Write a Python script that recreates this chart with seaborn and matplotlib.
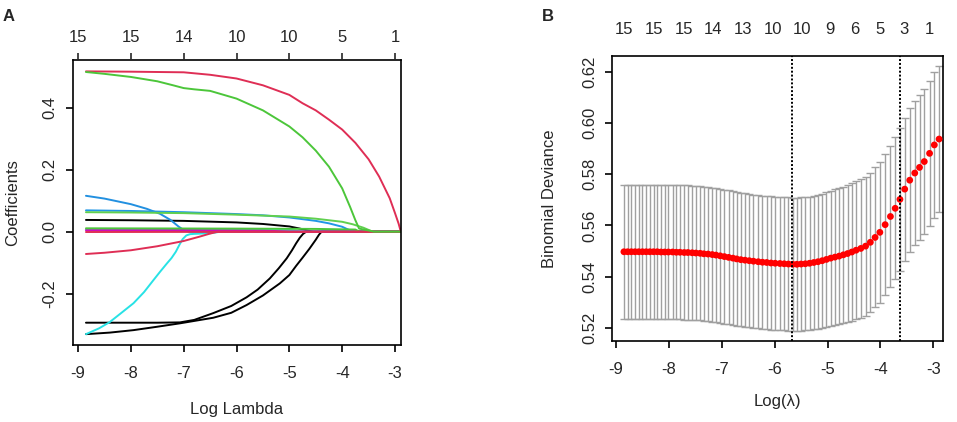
import numpy as np
import pandas as pd
import matplotlib
matplotlib.use('Agg')
import matplotlib.pyplot as plt
import seaborn as sns

sns.set_style('ticks')
plt.rcParams['font.family'] = ['Liberation Sans', 'DejaVu Sans']
plt.rcParams['font.size'] = 12

# ---- panel A: coefficient paths (log lambda, coefficient) ----
black_a_x = [-8.85, -8.0, -7.5, -7.07, -6.8, -6.44, -6.1, -5.81, -5.6, -5.37, -5.2, -5.05, -4.95, -4.87, -4.8, -4.74, -4.68, -2.89]
black_a_y = [-0.294, -0.294, -0.294, -0.293, -0.285, -0.263, -0.240, -0.212, -0.187, -0.151, -0.118, -0.086, -0.060, -0.037, -0.019, -0.007, 0.0, 0.0]
black_b_x = [-8.85, -8.4, -7.95, -7.5, -7.07, -6.44, -6.1, -5.81, -5.5, -5.18, -5.0, -4.87, -4.75, -4.62, -4.5, -4.44, -4.39, -2.89]
black_b_y = [-0.331, -0.326, -0.318, -0.307, -0.296, -0.278, -0.262, -0.237, -0.206, -0.167, -0.140, -0.110, -0.084, -0.055, -0.026, -0.010, 0.0, 0.0]
black_c_x = [-8.85, -8.0, -7.0, -6.0, -5.5, -5.0, -4.8, -4.68, -4.55, -2.89]
black_c_y = [0.038, 0.037, 0.035, 0.030, 0.025, 0.017, 0.010, 0.005, 0.0, 0.0]
red_top_x = [-8.85, -8.0, -7.0, -6.5, -6.0, -5.5, -5.0, -4.75, -4.5, -4.25, -4.0, -3.75, -3.5, -3.3, -3.1, -3.0, -2.93, -2.89]
red_top_y = [0.518, 0.517, 0.515, 0.507, 0.495, 0.473, 0.442, 0.415, 0.392, 0.362, 0.330, 0.287, 0.234, 0.178, 0.108, 0.060, 0.025, 0.0]
green_top_x = [-8.85, -8.5, -8.0, -7.5, -7.2, -7.0, -6.8, -6.5, -6.0, -5.5, -5.0, -4.75, -4.5, -4.25, -4.0, -3.85, -3.75, -3.68, -3.5, -3.4, -2.89]
green_top_y = [0.516, 0.510, 0.500, 0.486, 0.473, 0.464, 0.460, 0.455, 0.430, 0.392, 0.340, 0.305, 0.262, 0.210, 0.140, 0.080, 0.037, 0.010, 0.004, 0.0, 0.0]
blue_a_x = [-8.85, -8.5, -8.0, -7.7, -7.45, -7.25, -7.1, -6.98, -6.9, -2.89]
blue_a_y = [0.116, 0.107, 0.089, 0.074, 0.058, 0.038, 0.017, 0.003, 0.0, 0.0]
blue_b_x = [-8.85, -8.0, -7.0, -6.0, -5.5, -5.0, -4.5, -4.25, -4.0, -3.8, -2.89]
blue_b_y = [0.069, 0.067, 0.063, 0.057, 0.053, 0.046, 0.035, 0.027, 0.016, 0.0, 0.0]
green_b_x = [-8.85, -8.0, -7.0, -6.0, -5.0, -4.5, -4.0, -3.8, -3.6, -3.42, -2.89]
green_b_y = [0.063, 0.062, 0.060, 0.055, 0.049, 0.042, 0.032, 0.024, 0.013, 0.0, 0.0]
green_c_x = [-8.85, -6.0, -4.5, -3.75, -3.67, -2.89]
green_c_y = [0.011, 0.010, 0.009, 0.007, 0.0, 0.0]
magenta_x = [-8.85, -7.0, -5.5, -5.0, -2.89]
magenta_y = [0.005, 0.005, 0.004, 0.0, 0.0]
cyan_b_x = [-8.85, -5.0, -4.7, -2.89]
cyan_b_y = [0.006, 0.005, 0.0, 0.0]
red_zero_x = [-8.85, -2.89]
red_zero_y = [-0.001, 0.0]
red_bot_x = [-8.85, -8.5, -8.0, -7.5, -7.0, -6.7, -6.5, -6.35, -2.89]
red_bot_y = [-0.072, -0.068, -0.060, -0.047, -0.030, -0.016, -0.006, 0.0, 0.0]
cyan_a_x = [-8.85, -8.6, -8.4, -8.2, -7.95, -7.75, -7.58, -7.45, -7.32, -7.23, -7.15, -7.08, -7.02, -6.95, -6.88, -6.8, -6.5, -6.3, -2.89]
cyan_a_y = [-0.331, -0.312, -0.292, -0.265, -0.231, -0.195, -0.158, -0.130, -0.103, -0.085, -0.065, -0.042, -0.024, -0.012, -0.008, -0.007, -0.005, 0.0, 0.0]

paths = [
    ('black_a', '#000000', black_a_x, black_a_y),
    ('black_b', '#000000', black_b_x, black_b_y),
    ('black_c', '#000000', black_c_x, black_c_y),
    ('cyan_a', '#28E2E5', cyan_a_x, cyan_a_y),
    ('cyan_b', '#28E2E5', cyan_b_x, cyan_b_y),
    ('blue_a', '#2290E0', blue_a_x, blue_a_y),
    ('blue_b', '#2297E6', blue_b_x, blue_b_y),
    ('magenta', '#CD0BBC', magenta_x, magenta_y),
    ('green_c', '#4CC63A', green_c_x, green_c_y),
    ('green_b', '#61D04F', green_b_x, green_b_y),
    ('red_zero', '#DF2E55', red_zero_x, red_zero_y),
    ('red_bot', '#DF2E55', red_bot_x, red_bot_y),
    ('red_top', '#DF2E55', red_top_x, red_top_y),
    ('green_top', '#4CC63A', green_top_x, green_top_y),
]
coef_df = pd.concat([pd.DataFrame({'path': n, 'log_lambda': xs, 'coef': ys})
                     for n, c, xs, ys in paths], ignore_index=True)
path_colors = {n: c for n, c, xs, ys in paths}
path_order = [n for n, c, xs, ys in paths]

a_ticks = [-9, -8, -7, -6, -5, -4, -3]
a_top_labels = ['15', '15', '14', '10', '10', '5', '1']

# ---- panel B: cross-validation curve ----
cv_loglam = [-8.85, -8.78, -8.71, -8.64, -8.57, -8.50, -8.43, -8.36, -8.29, -8.22,
             -8.15, -8.08, -8.01, -7.93, -7.86, -7.79, -7.71, -7.64, -7.56, -7.49,
             -7.41, -7.34, -7.26, -7.18, -7.11, -7.03, -6.95, -6.87, -6.79, -6.72,
             -6.64, -6.56, -6.48, -6.40, -6.31, -6.23, -6.15, -6.07, -5.99, -5.90,
             -5.82, -5.74, -5.66, -5.58, -5.50, -5.42, -5.34, -5.26, -5.18, -5.10,
             -5.02, -4.94, -4.86, -4.78, -4.70, -4.62, -4.54, -4.46, -4.37, -4.28,
             -4.19, -4.10, -4.01, -3.91, -3.81, -3.72, -3.63, -3.54, -3.445, -3.35,
             -3.26, -3.17, -3.07, -2.98, -2.89]
cv_mean = [0.5497, 0.5497, 0.5497, 0.5497, 0.5497, 0.5497, 0.5497, 0.5497, 0.5497, 0.5497,
           0.5496, 0.5496, 0.5496, 0.5496, 0.5495, 0.5495, 0.5494, 0.5494, 0.5493, 0.5492,
           0.5491, 0.5489, 0.5488, 0.5486, 0.5484, 0.5481, 0.5478, 0.5475, 0.5472, 0.5469,
           0.5466, 0.5464, 0.5462, 0.5460, 0.5458, 0.5456, 0.5455, 0.5453, 0.5452, 0.5451,
           0.5450, 0.5449, 0.5448, 0.5448, 0.5449, 0.5450, 0.5452, 0.5455, 0.5458, 0.5462,
           0.5467, 0.5472, 0.5476, 0.5480, 0.5485, 0.5490, 0.5496, 0.5503, 0.5510, 0.5519,
           0.5534, 0.5553, 0.5573, 0.5603, 0.5635, 0.5667, 0.5702, 0.5742, 0.5777, 0.5805,
           0.5827, 0.5850, 0.5882, 0.5915, 0.5938]
cv_se = [0.0263, 0.0263, 0.0263, 0.0263, 0.0263, 0.0263, 0.0263, 0.0263, 0.0263, 0.0263,
         0.0263, 0.0263, 0.0263, 0.0263, 0.0263, 0.0263, 0.0263, 0.0263, 0.0263, 0.0263,
         0.0263, 0.0263, 0.0262, 0.0262, 0.0262, 0.0262, 0.0262, 0.0262, 0.0262, 0.0262,
         0.0261, 0.0261, 0.0261, 0.0261, 0.0261, 0.0261, 0.0261, 0.0261, 0.0261, 0.0261,
         0.0261, 0.0261, 0.0261, 0.0261, 0.0261, 0.0261, 0.0261, 0.0261, 0.0262, 0.0262,
         0.0263, 0.0264, 0.0265, 0.0266, 0.0267, 0.0268, 0.0269, 0.0270, 0.0271, 0.0272,
         0.0273, 0.0274, 0.0275, 0.0276, 0.0277, 0.0278, 0.0279, 0.0280, 0.0281, 0.0282,
         0.0283, 0.0284, 0.0284, 0.0285, 0.0285]
lambda_min = -5.67
lambda_1se = -3.63
b_top_pos = [-8.85, -8.28, -7.71, -7.16, -6.60, -6.04, -5.49, -4.95, -4.48, -4.01, -3.55, -3.08]
b_top_labels = ['15', '15', '15', '14', '13', '10', '10', '9', '6', '5', '3', '1']
b_xticks = [-9, -8, -7, -6, -5, -4, -3]
b_yticks = [0.52, 0.54, 0.56, 0.58, 0.60, 0.62]

cv_df = pd.DataFrame({'log_lambda': cv_loglam, 'deviance': cv_mean, 'se': cv_se})


def style_axes(ax):
    for s in ax.spines.values():
        s.set_visible(True)
        s.set_linewidth(1.2)
        s.set_color('black')
    ax.tick_params(axis='both', direction='out', length=5, width=1.2, labelsize=12, color='black')
    ax.tick_params(axis='x', pad=10)
    ax.tick_params(axis='y', pad=6)
    for lab in ax.get_yticklabels():
        lab.set_rotation(90)
        lab.set_va('center')


fig = plt.figure(figsize=(9.57, 4.22), dpi=100)
axA = fig.add_axes([0.0763, 0.1825, 0.3427, 0.6755])
axB = fig.add_axes([0.6398, 0.1927, 0.3459, 0.6746])

# panel A
sns.lineplot(data=coef_df, x='log_lambda', y='coef', hue='path', hue_order=path_order,
             palette=path_colors, estimator=None, sort=False, legend=False,
             linewidth=1.4, ax=axA)
axA.set_xlim(-9.095, -2.887)
axA.set_ylim(-0.366, 0.555)
axA.set_xticks(a_ticks)
axA.set_xticklabels([str(t) for t in a_ticks])
axA.set_yticks([-0.2, 0.0, 0.2, 0.4])
axA.set_yticklabels(['-0.2', '0.0', '0.2', '0.4'])
axA.set_xlabel('Log Lambda', fontsize=12, va='center')
axA.set_ylabel('Coefficients', fontsize=12, va='center')
axA.xaxis.set_label_coords(0.5, -0.225)
axA.yaxis.set_label_coords(-0.185, 0.5)
style_axes(axA)
topA = axA.twiny()
topA.set_xlim(axA.get_xlim())
topA.set_xticks(a_ticks)
topA.set_xticklabels(a_top_labels)
topA.tick_params(axis='x', direction='out', length=5, width=1.2, labelsize=12, pad=6)
for s in topA.spines.values():
    s.set_visible(False)

# panel B
axB.errorbar(cv_df['log_lambda'], cv_df['deviance'], yerr=cv_df['se'], fmt='none',
             ecolor='#A0A0A0', elinewidth=1.0, capsize=2.8, capthick=1.0, zorder=2)
sns.scatterplot(data=cv_df, x='log_lambda', y='deviance', color='red', s=24,
                edgecolor='none', zorder=3, ax=axB)
axB.axvline(lambda_min, color='black', linestyle=(0, (1, 1)), linewidth=1.4, zorder=4)
axB.axvline(lambda_1se, color='black', linestyle=(0, (1, 1)), linewidth=1.4, zorder=4)
axB.set_xlim(-9.07, -2.81)
axB.set_ylim(0.5149, 0.6263)
axB.set_xticks(b_xticks)
axB.set_xticklabels([str(t) for t in b_xticks])
axB.set_yticks(b_yticks)
axB.set_yticklabels(['%.2f' % v for v in b_yticks])
axB.set_xlabel('Log(λ)', fontsize=12, va='center')
axB.set_ylabel('Binomial Deviance', fontsize=12, va='center')
axB.xaxis.set_label_coords(0.5, -0.212)
axB.yaxis.set_label_coords(-0.19, 0.5)
style_axes(axB)
topB = axB.twiny()
topB.set_xlim(axB.get_xlim())
topB.set_xticks(b_top_pos)
topB.set_xticklabels(b_top_labels)
topB.tick_params(axis='x', length=0, labelsize=12, pad=14)
for s in topB.spines.values():
    s.set_visible(False)

fig.text(0.0094, 0.96, 'A', fontsize=12, fontweight='bold', ha='center', va='center')
fig.text(0.573, 0.96, 'B', fontsize=12, fontweight='bold', ha='center', va='center')

fig.savefig('out.png', dpi=100)
